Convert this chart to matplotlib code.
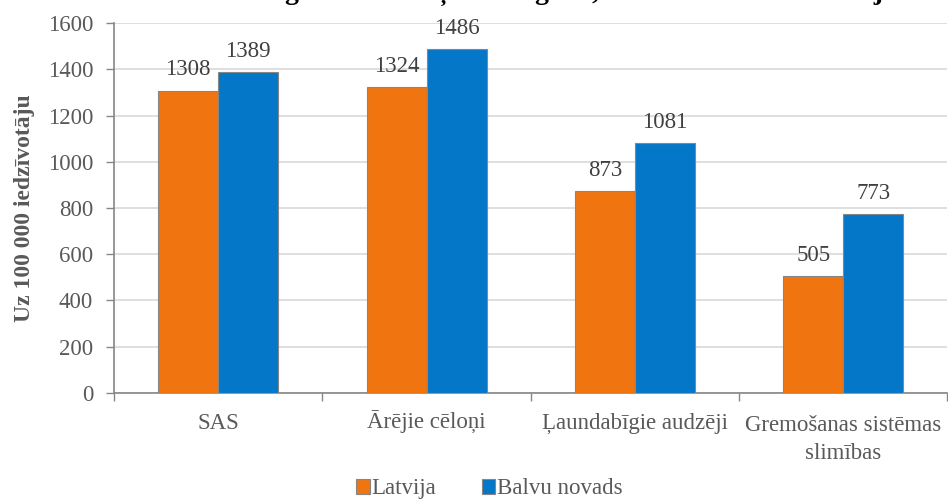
import matplotlib.pyplot as plt
import numpy as np

# data
categories = ["SAS", "Ārējie cēloņi", "Ļaundabīgie audzēji", "Gremošanas sistēmas\nslimības"]
latvija = [1308, 1324, 873, 505]
balvu = [1389, 1486, 1081, 773]
series_names = ["Latvija", "Balvu novads"]
title_text = "Mirstības galvenie cēloņi 2016. gadā, Balvu novads un Latvija"

ORANGE = "#F07511"
BLUE = "#0577C9"
TEXT = "#595959"
AXIS = "#868686"
FS = 16.5

plt.rcParams["font.family"] = ["Liberation Serif", "DejaVu Serif"]

fig = plt.figure(figsize=(9.48, 5.01), dpi=100)
ax = fig.add_axes([0.1203, 0.2156, 0.879, 0.7384])

x = np.arange(len(categories))
w = 0.288
b1 = ax.bar(x - w / 2, latvija, w, color=ORANGE, edgecolor=AXIS, linewidth=0.8,
            label=series_names[0], zorder=3)
b2 = ax.bar(x + w / 2, balvu, w, color=BLUE, edgecolor=AXIS, linewidth=0.8,
            label=series_names[1], zorder=3)

for bars in (b1, b2):
    for r in bars:
        ax.annotate(f"{int(r.get_height())}", (r.get_x() + r.get_width() / 2, r.get_height()),
                    xytext=(0, 11), textcoords="offset points", ha="center", va="baseline",
                    fontsize=FS, color="#404040")

ax.set_xlim(-0.5, len(categories) - 0.5)
ax.set_ylim(0, 1600)
ax.set_yticks(range(0, 1601, 200))
ax.yaxis.grid(True, color="#D9D9D9", linewidth=1.2, zorder=0)
ax.set_axisbelow(True)

# category labels drawn by hand so that every first line shares one baseline
ax.set_xticks(np.arange(-0.5, len(categories)), minor=True)
ax.set_xticks(x)
ax.set_xticklabels([])
for i, name in enumerate(categories):
    extra = 30 * name.count("\n")
    ax.annotate(name, (x[i], 0), xycoords=("data", "axes fraction"),
                xytext=(0, -36 - extra), textcoords="offset pixels", ha="center",
                va="baseline", fontsize=FS, color=TEXT, linespacing=1.42,
                annotation_clip=False)
ax.tick_params(axis="x", which="major", length=0)
ax.tick_params(axis="x", which="minor", length=6, color=AXIS, width=1)
ax.tick_params(axis="y", labelsize=FS, labelcolor=TEXT, length=6, color=AXIS, width=1, pad=9)

for s in ("top", "right"):
    ax.spines[s].set_visible(False)
for s in ("left", "bottom"):
    ax.spines[s].set_color(AXIS)
    ax.spines[s].set_linewidth(1.2)

ax.set_ylabel("Uz 100 000 iedzīvotāju", fontsize=17, fontweight="bold", color=TEXT, labelpad=9)

# title sits mostly above the top edge, as in the reference
fig.text(0.56, 1.0 + 1 / 501, title_text, ha="center", va="baseline", fontsize=20,
         fontweight="bold", color="black")

leg = fig.legend(loc="lower center", bbox_to_anchor=(0.516, -0.038), ncol=2, frameon=False,
                 fontsize=FS, handlelength=0.6, handleheight=0.6, handletextpad=0.05,
                 columnspacing=2.0, labelcolor=TEXT)
for h in leg.legend_handles:
    h.set_edgecolor(AXIS)

fig.savefig("out.png", dpi=100)
